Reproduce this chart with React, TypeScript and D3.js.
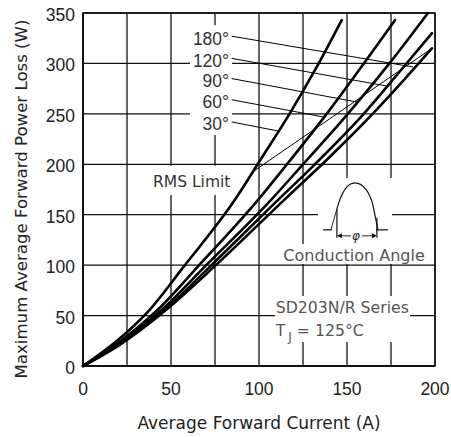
import React from 'react';
import * as d3 from 'd3';

const W = 451;
const H = 437;

// Axis ticks / grid
const xGrid = [0, 25, 50, 75, 100, 125, 150, 175, 200];
const yGrid = [0, 50, 100, 150, 200, 250, 300, 350];
const xTickLabels = [0, 50, 100, 150, 200];
const yTickLabels = [0, 50, 100, 150, 200, 250, 300, 350];

// Series (Average forward current A, power loss W)
const current30 = [0, 20, 38, 57, 86, 101, 117, 132, 147];
const power30 = [0, 26, 56, 98, 164, 205, 249, 294, 343];
const current60 = [0, 20, 42.6, 66, 99.6, 115, 138, 160, 177.3];
const power60 = [0, 23, 56, 100, 165, 198, 249, 301, 343];
const current90 = [0, 20, 45, 70, 107, 125, 150, 175, 196];
const power90 = [0, 22, 56, 100, 165, 200, 249, 302, 350];
const current120 = [0, 20, 46.6, 73, 111, 130, 159, 180, 198.3];
const power120 = [0, 21, 56, 100, 165, 197, 249, 292, 330];
const current180 = [0, 20, 47.5, 75.5, 114.5, 140, 164, 182, 198.3];
const power180 = [0, 20, 56, 100, 165, 207, 249, 283, 315];

// RMS limit
const rmsCurrent = [96, 198.3];
const rmsPower = [192, 315];

// Angle labels with leader targets
const angleLabels = ['180°', '120°', '90°', '60°', '30°'];
const labelPower = [325, 303, 283, 262, 240];
const leaderEndCurrent = [187.5, 172.7, 155.7, 136.4, 110.8];
const leaderEndPower = [296.5, 277.6, 261.7, 247, 233];

const WORD_FONT = "'DejaVu Sans', Verdana, sans-serif";
const NUM_FONT = "'Liberation Sans', Arial, sans-serif";

export default function App() {
  const x = d3.scaleLinear().domain([0, 200]).range([83, 435]);
  const y = d3.scaleLinear().domain([0, 350]).range([366, 13]);

  const series = [
    { c: current30, p: power30 },
    { c: current60, p: power60 },
    { c: current90, p: power90 },
    { c: current120, p: power120 },
    { c: current180, p: power180 },
  ];

  const line = d3
    .line<[number, number]>()
    .x((d) => x(d[0]))
    .y((d) => y(d[1]))
    .curve(d3.curveMonotoneX);

  const rmsLine = d3
    .line<[number, number]>()
    .x((d) => x(d[0]))
    .y((d) => y(d[1]));

  const box = (i0: number, p0: number, i1: number, p1: number, key: string) => (
    <rect
      key={key}
      x={x(i0)}
      y={y(p0)}
      width={x(i1) - x(i0)}
      height={y(p1) - y(p0)}
      fill="#fff"
    />
  );

  // inset waveform anchor
  const ax = x(154.5);
  const ay = y(135);
  const hump = `M${ax - 18},${ay - 21} C${ax - 15},${ay - 32} ${ax - 9},${ay - 47} ${ax},${ay - 47} C${ax + 9},${ay - 47} ${ax + 15},${ay - 36} ${ax + 18},${ay - 25} L${ax + 23},${ay}`;

  return (
    <svg
      width={W}
      height={H}
      style={{ position: 'absolute', left: 0, top: 0, background: '#fff' }}
    >
      <rect x={0} y={0} width={W} height={H} fill="#fff" />
      {/* grid */}
      {xGrid.map((v) => (
        <line key={'gx' + v} x1={x(v)} x2={x(v)} y1={y(0)} y2={y(350)} stroke="#111" strokeWidth={1.3} />
      ))}
      {yGrid.map((v) => (
        <line key={'gy' + v} x1={x(0)} x2={x(200)} y1={y(v)} y2={y(v)} stroke="#111" strokeWidth={1.3} />
      ))}
      {/* white label boxes */}
      {box(60.8, 338, 84.7, 229, 'b1')}
      {box(37, 198.6, 86.4, 169.5, 'b2')}
      {box(133.5, 186.4, 175.6, 120, 'b3')}
      {box(111.4, 121, 197.7, 101.2, 'b4')}
      {box(109, 69.4, 185.8, 23.8, 'b5')}

      {/* frame */}
      <rect x={x(0)} y={y(350)} width={x(200) - x(0)} height={y(0) - y(350)} fill="none" stroke="#111" strokeWidth={1.5} />
      <line x1={x(0)} x2={x(0)} y1={y(0)} y2={y(350)} stroke="#111" strokeWidth={2} />
      <line x1={x(0)} x2={x(200)} y1={y(0)} y2={y(0)} stroke="#111" strokeWidth={2} />

      {/* curves */}
      {series.map((s, i) => (
        <path
          key={'s' + i}
          d={line(s.c.map((c, j) => [c, s.p[j]] as [number, number])) || ''}
          fill="none"
          stroke="#000"
          strokeWidth={2.6}
          strokeLinecap="round"
        />
      ))}
      <path
        d={rmsLine(rmsCurrent.map((c, j) => [c, rmsPower[j]] as [number, number])) || ''}
        fill="none"
        stroke="#000"
        strokeWidth={1}
      />

      {/* angle labels + leaders */}
      {angleLabels.map((t, i) => (
        <g key={'al' + i}>
          <line
            x1={x(84.5)}
            y1={y(labelPower[i] + 2)}
            x2={x(leaderEndCurrent[i])}
            y2={y(leaderEndPower[i])}
            stroke="#000"
            strokeWidth={1}
          />
          <text
            x={x(83)}
            y={y(labelPower[i])}
            dy="0.36em"
            textAnchor="end"
            fontFamily={NUM_FONT}
            fontSize={17.5}
            fill="#333"
          >
            {t}
          </text>
        </g>
      ))}

      <text x={x(39.8)} y={y(177.5)} fontFamily={WORD_FONT} fontSize={15.5} fill="#333">
        RMS Limit
      </text>

      {/* inset */}
      <g fill="none" stroke="#111" strokeWidth={1.2}>
        <line x1={ax - 32} y1={ay} x2={ax - 23} y2={ay} />
        <line x1={ax - 24} y1={ay} x2={ax - 18} y2={ay - 21} strokeWidth={0.9} />
        <line x1={ax - 18} y1={ay - 21} x2={ax - 18} y2={ay + 8} />
        <path d={hump} />
        <line x1={ax + 22} y1={ay - 12} x2={ax + 22} y2={ay + 8} />
        <line x1={ax + 21} y1={ay} x2={ax + 33} y2={ay} />
        <line x1={ax - 16} y1={ay + 6} x2={ax - 4} y2={ay + 6} strokeWidth={0.9} />
        <line x1={ax + 7} y1={ay + 6} x2={ax + 20} y2={ay + 6} strokeWidth={0.9} />
      </g>
      <path d={`M${ax - 18},${ay + 6} l5,-2.5 l0,5 z`} fill="#111" />
      <path d={`M${ax + 22},${ay + 6} l-5,-2.5 l0,5 z`} fill="#111" />
      <text x={ax + 1} y={ay + 10} textAnchor="middle" fontFamily={WORD_FONT} fontStyle="italic" fontSize={12} fill="#222">
        φ
      </text>
      <text x={x(154)} y={y(104)} textAnchor="middle" fontFamily={WORD_FONT} fontSize={16} fill="#555">
        Conduction Angle
      </text>

      <text x={x(109.5)} y={y(52.5)} fontFamily={WORD_FONT} fontSize={15.7} fill="#555">
        SD203N/R Series
      </text>
      <text x={x(109.5)} y={y(29.7)} fontFamily={WORD_FONT} fontSize={15.7} fill="#555">
        T
        <tspan dx={3} dy={5} fontSize={12}>J</tspan>
        <tspan dy={-5}> = 125°C</tspan>
      </text>

      {/* tick labels */}
      {xTickLabels.map((v) => (
        <text key={'xt' + v} x={x(v)} y={395} textAnchor="middle" fontFamily={NUM_FONT} fontSize={17.5} fill="#222">
          {v}
        </text>
      ))}
      {yTickLabels.map((v) => (
        <text key={'yt' + v} x={75} y={y(v) + 8} textAnchor="end" fontFamily={NUM_FONT} fontSize={17.5} fill="#222">
          {v}
        </text>
      ))}

      {/* axis titles */}
      <text x={259} y={429} textAnchor="middle" fontFamily={WORD_FONT} fontSize={17} fill="#222">
        Average Forward Current (A)
      </text>
      <text
        transform="translate(21,199) rotate(-90)"
        textAnchor="middle"
        dominantBaseline="central"
        fontFamily={WORD_FONT}
        fontSize={16.6}
        fill="#222"
      >
        Maximum Average Forward Power Loss (W)
      </text>
    </svg>
  );
}
